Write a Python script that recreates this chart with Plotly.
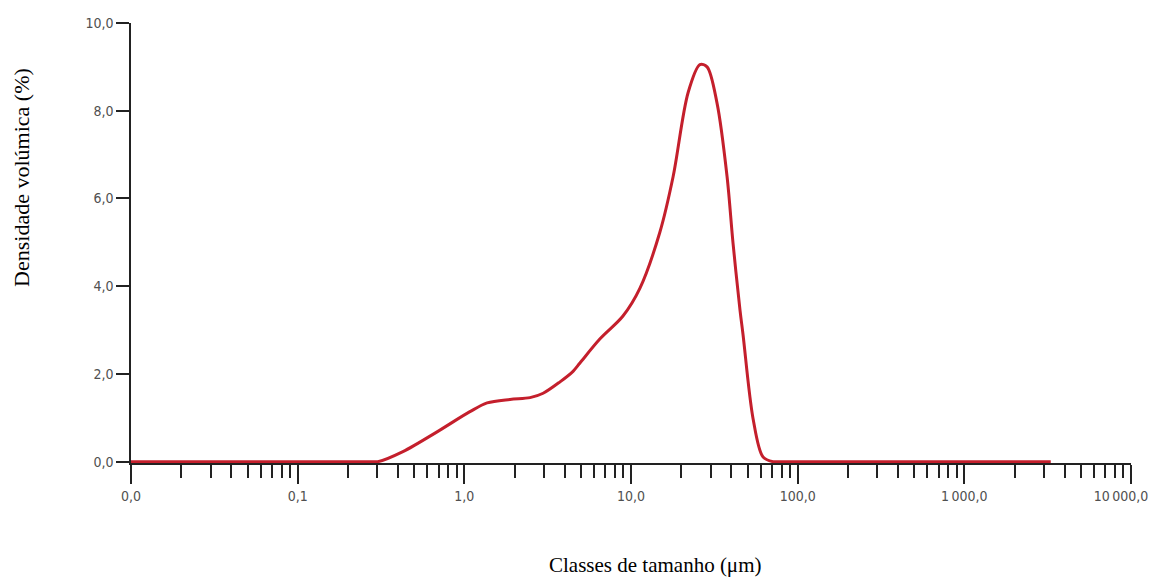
import plotly.graph_objects as go

# Particle size classes (µm) and volume density (%)
sizes = [0.01, 0.29, 0.303, 0.428, 0.686, 1.08, 1.37, 1.88, 2.48, 2.97, 3.75, 4.49,
         4.94, 6.52, 8.95, 11.3, 14.9, 17.9, 22.0, 25.9, 28.6, 32.8, 37.7, 40.9,
         45.1, 47.0, 54.0, 61.9, 71.1, 75.0, 3300.0]
density = [0.0, 0.0, 0.0, 0.23, 0.68, 1.14, 1.34, 1.42, 1.46, 1.56, 1.82, 2.06,
           2.25, 2.80, 3.32, 3.95, 5.23, 6.50, 8.41, 9.05, 9.00, 8.18, 6.50, 5.00,
           3.45, 2.90, 0.98, 0.11, 0.0, 0.0, 0.0]

x_tickvals = [0.01, 0.1, 1, 10, 100, 1000, 10000]
x_ticktext = ["0,0", "0,1", "1,0", "10,0", "100,0", "1\u2009000,0",
              "10\u2009000,0\u00a0\u00a0\u00a0\u00a0\u00a0"]
y_tickvals = [0, 2, 4, 6, 8, 10]
y_ticktext = ["0,0", "2,0", "4,0", "6,0", "8,0", "10,0"]
minor_vals = [d * m for d in x_tickvals[:-1] for m in range(2, 10)]

tick_font = dict(family="Liberation Sans Narrow, DejaVu Sans Condensed, Arial Narrow, sans-serif",
                 size=14, color="#505050")
ytitle_font = dict(family="Liberation Serif, Times New Roman, serif", size=22, color="#000000")
xtitle_font = dict(family="Liberation Serif, Times New Roman, serif", size=21, color="#000000")

fig = go.Figure()
fig.add_trace(go.Scatter(
    x=sizes, y=density, mode="lines",
    line=dict(color="#c41f2c", width=3, shape="spline", smoothing=0.9),
    showlegend=False, hoverinfo="x+y",
))

fig.update_layout(
    width=1153, height=569,
    margin=dict(l=123, r=30, t=15, b=114, autoexpand=False),
    paper_bgcolor="white", plot_bgcolor="white",
    xaxis=dict(
        type="log", range=[-2, 4],
        tickvals=x_tickvals, ticktext=x_ticktext,
        ticks="outside", ticklen=19, tickwidth=1.5, tickcolor="#222",
        showline=True, linecolor="#222", linewidth=1.5,
        showgrid=False, zeroline=False, tickfont=tick_font,
        ticklabeloverflow="allow", automargin=False,
        minor=dict(tickvals=minor_vals, ticks="outside", ticklen=13,
                   tickwidth=1.5, tickcolor="#222", showgrid=False),
        layer="below traces",
    ),
    yaxis=dict(
        range=[-0.03, 10],
        tickvals=y_tickvals, ticktext=y_ticktext,
        ticks="outside", ticklen=13, tickwidth=1.5, tickcolor="#222",
        showline=True, linecolor="#222", linewidth=1.5,
        showgrid=False, zeroline=False, tickfont=tick_font,
        automargin=False,
        layer="below traces",
    ),
    annotations=[
        dict(text="Densidade volúmica (%)", textangle=-90, font=ytitle_font,
             xref="paper", yref="paper", x=-0.109, y=0.648,
             xanchor="center", yanchor="middle", showarrow=False),
        dict(text="Classes de tamanho (μm)", font=xtitle_font,
             xref="paper", yref="paper", x=0.524, y=-0.232,
             xanchor="center", yanchor="middle", showarrow=False),
    ],
)

fig.write_html("out.html")
